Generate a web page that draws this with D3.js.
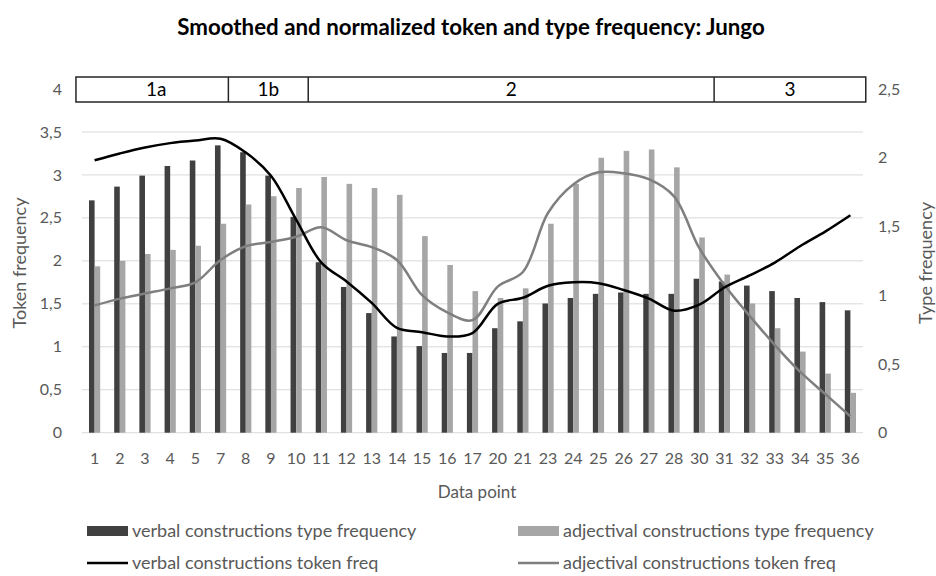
<!DOCTYPE html>
<html>
<head>
<meta charset="utf-8">
<script src="https://cdn.jsdelivr.net/npm/d3@7"></script>
<style>
  html, body { margin: 0; padding: 0; background: #fff; }
  svg { display: block; font-family: Lato, "Open Sans", sans-serif; }
</style>
</head>
<body>
<svg id="chart" width="936" height="576"></svg>
<script>
// ---------- data ----------
const categories = ["1","2","3","4","5","7","8","9","10","11","12","13","14","15","16","17","20","21","23","24","25","26","27","28","30","31","32","33","34","35","36"];
const verbalType = [1.69,1.79,1.87,1.94,1.98,2.09,2.04,1.87,1.57,1.24,1.06,0.87,0.70,0.63,0.58,0.58,0.76,0.81,0.94,0.98,1.01,1.02,1.01,1.01,1.12,1.10,1.07,1.03,0.98,0.95,0.89];
const adjectivalType = [1.21,1.25,1.30,1.33,1.36,1.52,1.66,1.72,1.78,1.86,1.81,1.78,1.73,1.43,1.22,1.03,0.98,1.05,1.52,1.81,2.00,2.05,2.06,1.93,1.42,1.15,0.94,0.76,0.59,0.43,0.29];
const verbalToken = [3.17,3.25,3.32,3.37,3.40,3.42,3.26,2.99,2.48,1.98,1.76,1.51,1.22,1.17,1.12,1.16,1.50,1.57,1.71,1.75,1.74,1.66,1.56,1.42,1.49,1.69,1.83,1.98,2.17,2.34,2.53];
const adjectivalToken = [1.48,1.56,1.62,1.68,1.75,2.01,2.17,2.22,2.28,2.39,2.24,2.16,2.01,1.60,1.40,1.31,1.70,1.87,2.56,2.89,3.03,3.02,2.95,2.75,2.15,1.72,1.36,1.02,0.71,0.45,0.19];
const leftTicks = [0,0.5,1,1.5,2,2.5,3,3.5,4];
const rightTicks = [0,0.5,1,1.5,2,2.5];
const phaseLabels = ["1a","1b","2","3"];
// phase boundaries expressed in category-slot units
const phaseBounds = [-0.24, 5.81, 8.98, 25.09, 31.11];
const titleText = "Smoothed and normalized token and type frequency: Jungo";
const legendItems = [
  {label:"verbal constructions type frequency", kind:"bar", color:"#404040"},
  {label:"adjectival constructions type frequency", kind:"bar", color:"#a6a6a6"},
  {label:"verbal constructions token freq", kind:"line", color:"#000000"},
  {label:"adjectival constructions token freq", kind:"line", color:"#7f7f7f"}
];

// ---------- layout ----------
const svg = d3.select("#chart");
const plot = {left: 82, right: 863, top: 89, bottom: 432.7};
const textColor = "#595959";
const fmt = v => String(v).replace(".", ",");

const x = d3.scaleBand().domain(categories).range([plot.left, plot.right]).paddingInner(0).paddingOuter(0);
const slot = d3.scaleLinear().domain([0, categories.length]).range([plot.left, plot.right]);
const yL = d3.scaleLinear().domain([0, 4]).range([plot.bottom, plot.top]);
const yR = d3.scaleLinear().domain([0, 2.5]).range([plot.bottom, plot.top]);
const barW = 5.6;

// gridlines
svg.append("g").selectAll("line").data(leftTicks.slice(0, -1)).join("line")
  .attr("x1", plot.left).attr("x2", plot.right)
  .attr("y1", d => yL(d)).attr("y2", d => yL(d))
  .attr("stroke", "#d9d9d9").attr("stroke-width", 1);

// bars
const cx = c => x(c) + x.bandwidth() / 2;
svg.append("g").selectAll("rect").data(categories).join("rect")
  .attr("x", c => cx(c) - barW).attr("width", barW)
  .attr("y", (c, i) => yR(verbalType[i])).attr("height", (c, i) => yR(0) - yR(verbalType[i]))
  .attr("fill", "#404040");
svg.append("g").selectAll("rect").data(categories).join("rect")
  .attr("x", c => cx(c)).attr("width", barW)
  .attr("y", (c, i) => yR(adjectivalType[i])).attr("height", (c, i) => yR(0) - yR(adjectivalType[i]))
  .attr("fill", "#a6a6a6");

// lines
const line = d3.line().x((d, i) => cx(categories[i])).y(d => yL(d)).curve(d3.curveCatmullRom.alpha(0.5));
svg.append("path").datum(adjectivalToken).attr("d", line)
  .attr("fill", "none").attr("stroke", "#7f7f7f").attr("stroke-width", 2.5).attr("stroke-linejoin", "round");
svg.append("path").datum(verbalToken).attr("d", line)
  .attr("fill", "none").attr("stroke", "#000").attr("stroke-width", 2.5).attr("stroke-linejoin", "round");

// phase box
const boxTop = 77, boxBottom = 102;
const pg = svg.append("g");
pg.append("rect").attr("x", slot(phaseBounds[0])).attr("y", boxTop)
  .attr("width", slot(phaseBounds[phaseBounds.length - 1]) - slot(phaseBounds[0]))
  .attr("height", boxBottom - boxTop).attr("fill", "#fff").attr("stroke", "#262626").attr("stroke-width", 1.5);
pg.selectAll("line").data(phaseBounds.slice(1, -1)).join("line")
  .attr("x1", d => slot(d)).attr("x2", d => slot(d)).attr("y1", boxTop).attr("y2", boxBottom)
  .attr("stroke", "#262626").attr("stroke-width", 1.5);
pg.selectAll("text").data(phaseLabels).join("text")
  .attr("x", (d, i) => (slot(phaseBounds[i]) + slot(phaseBounds[i + 1])) / 2 + (i === 0 ? 4 : 0))
  .attr("y", (boxTop + boxBottom) / 2).attr("dy", "0.35em")
  .attr("text-anchor", "middle").attr("font-size", 19).attr("fill", "#000").text(d => d);

// left axis labels
svg.append("g").selectAll("text").data(leftTicks).join("text")
  .attr("x", 62).attr("y", d => yL(d)).attr("dy", "0.35em")
  .attr("text-anchor", "end").attr("font-size", 16).attr("fill", textColor).text(fmt);
// right axis labels
svg.append("g").selectAll("text").data(rightTicks).join("text")
  .attr("x", 878).attr("y", d => yR(d)).attr("dy", "0.35em")
  .attr("text-anchor", "start").attr("font-size", 16).attr("fill", textColor).text(fmt);
// x labels
svg.append("g").selectAll("text").data(categories).join("text")
  .attr("x", c => cx(c)).attr("y", 458).attr("dy", "0.35em")
  .attr("text-anchor", "middle").attr("font-size", 16).attr("fill", textColor).text(d => d);

// axis titles
svg.append("text").attr("transform", "translate(20,263) rotate(-90)")
  .attr("text-anchor", "middle").attr("dy", "0.35em").attr("font-size", 18).attr("fill", textColor).text("Token frequency");
svg.append("text").attr("transform", "translate(926,263) rotate(-90)")
  .attr("text-anchor", "middle").attr("dy", "0.35em").attr("font-size", 18).attr("fill", textColor).text("Type frequency");
svg.append("text").attr("x", 477).attr("y", 492).attr("dy", "0.35em")
  .attr("text-anchor", "middle").attr("font-size", 17).attr("fill", textColor).text("Data point");

// title
svg.append("text").attr("x", 471).attr("y", 27).attr("dy", "0.35em")
  .attr("text-anchor", "middle").attr("font-size", 22.3).attr("font-weight", "bold").attr("fill", "#000").text(titleText);

// legend
const legendPos = [[87, 531], [518, 531], [87, 563], [518, 563]];
const lg = svg.append("g").selectAll("g").data(legendItems).join("g")
  .attr("transform", (d, i) => `translate(${legendPos[i][0]},${legendPos[i][1]})`);
lg.filter(d => d.kind === "bar").append("rect")
  .attr("x", 0).attr("y", -5).attr("width", 41).attr("height", 10).attr("fill", d => d.color);
lg.filter(d => d.kind === "line").append("line")
  .attr("x1", 0).attr("x2", 41).attr("y1", 0).attr("y2", 0)
  .attr("stroke", d => d.color).attr("stroke-width", 2.5);
lg.append("text").attr("x", 45).attr("y", 0).attr("dy", "0.35em")
  .attr("font-size", 18).attr("fill", textColor).text(d => d.label);
</script>
</body>
</html>
